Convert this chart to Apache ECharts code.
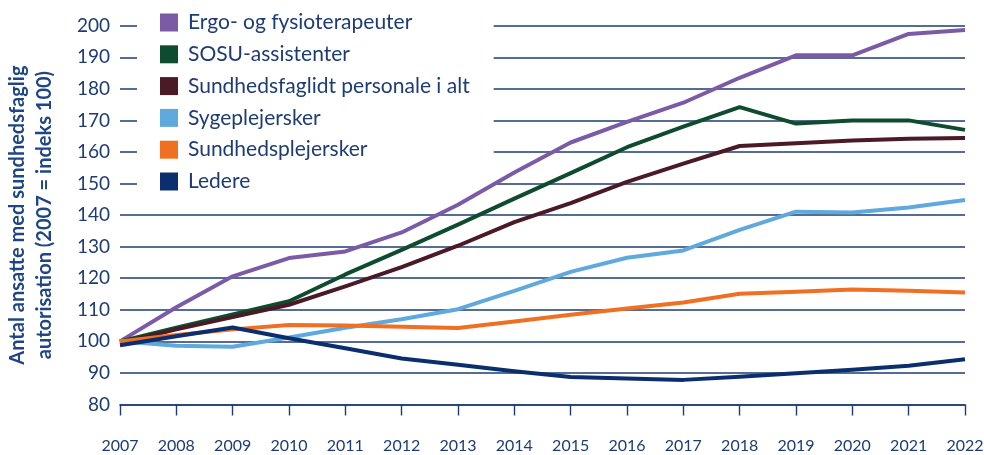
<!DOCTYPE html>
<html>
<head>
<meta charset="utf-8">
<script src="https://cdn.jsdelivr.net/npm/echarts@6/dist/echarts.min.js"></script>
<style>
  html, body { margin: 0; padding: 0; background: #ffffff; }
  #chart { width: 984px; height: 455px; }
</style>
</head>
<body>
<div id="chart"></div>
<script>
// Index of employees with health authorisation, 2007 = 100
var years = ['2007', '2008', '2009', '2010', '2011', '2012', '2013', '2014',
             '2015', '2016', '2017', '2018', '2019', '2020', '2021', '2022'];

var ergoFysio = [100, 110.8, 120.6, 126.4, 128.5, 134.5, 143.3, 153.5,
                 163.0, 169.5, 175.6, 183.5, 190.6, 190.6, 197.4, 198.6];
var sosu = [100, 104.3, 108.5, 112.7, 121.2, 129.0, 137.0, 145.2,
            153.3, 161.5, 168.0, 174.2, 169.0, 170.0, 170.0, 167.0];
var iAlt = [99.5, 103.8, 107.7, 111.6, 117.4, 123.5, 130.3, 137.8,
            143.8, 150.5, 156.3, 161.9, 162.8, 163.6, 164.2, 164.4];
var sygeplejersker = [100, 98.6, 98.3, 101.2, 104.3, 107.0, 110.2, 116.0,
                      122.0, 126.5, 128.8, 135.3, 141.1, 140.8, 142.4, 144.8];
var sundhedsplejersker = [100, 102.0, 103.8, 105.2, 105.0, 104.6, 104.2, 106.3,
                          108.4, 110.4, 112.3, 115.1, 115.7, 116.4, 116.0, 115.5];
var ledere = [98.8, 101.6, 104.4, 101.0, 97.8, 94.6, 92.6, 90.5,
              88.7, 88.2, 87.8, 88.8, 89.9, 91.0, 92.3, 94.3];

var seriesNames = ['Ergo- og fysioterapeuter', 'SOSU-assistenter',
                   'Sundhedsfaglidt personale i alt', 'Sygeplejersker',
                   'Sundhedsplejersker', 'Ledere'];
var seriesData = [ergoFysio, sosu, iAlt, sygeplejersker, sundhedsplejersker, ledere];
var colors = ['#7b5ba6', '#0f4c2f', '#4a1a26', '#5fa9dd', '#f07023', '#0b2f6e'];

var navy = '#1d3c73';
var fontFamily = 'Lato, "Noto Sans", sans-serif';

var chart = echarts.init(document.getElementById('chart'), null, { renderer: 'canvas' });

chart.setOption({
  animation: false,
  backgroundColor: '#ffffff',
  color: colors,
  textStyle: { fontFamily: fontFamily },
  grid: {
    left: 120, right: 19, top: 25.7, bottom: 50.5,
    containLabel: false,
    outerBoundsMode: 'none'
  },
  legend: {
    orient: 'vertical',
    left: 137,
    top: 2,
    z: 1,
    padding: [10, 24, 8, 23],
    backgroundColor: '#ffffff',
    icon: 'rect',
    itemWidth: 18,
    itemHeight: 18,
    itemGap: 10.8,
    selectedMode: false,
    textStyle: {
      color: navy,
      fontSize: 21,
      fontFamily: fontFamily,
      padding: [0, 0, 0, 5]
    },
    data: seriesNames
  },
  xAxis: {
    type: 'category',
    data: years,
    boundaryGap: false,
    axisLine: { show: true, lineStyle: { color: navy, width: 1.6 } },
    axisTick: { show: true, length: 11, alignWithLabel: true, lineStyle: { color: navy, width: 1.4 } },
    axisLabel: { color: navy, fontSize: 16, margin: 33, fontFamily: fontFamily },
    splitLine: { show: false }
  },
  yAxis: {
    type: 'value',
    min: 80,
    max: 200,
    interval: 10,
    axisLine: { show: false },
    axisTick: { show: false },
    axisLabel: { color: navy, fontSize: 19, margin: 10, fontFamily: fontFamily },
    splitLine: { show: true, lineStyle: { color: navy, width: 1.6 } },
    name: 'Antal ansatte med sundhedsfaglig\nautorisation (2007 = indeks 100)',
    nameLocation: 'middle',
    nameRotate: 90,
    nameGap: 62,
    nameMoveOverlap: false,
    nameTextStyle: {
      color: '#1f4684',
      fontSize: 20,
      fontWeight: 'bold',
      lineHeight: 27,
      fontFamily: fontFamily
    }
  },
  series: seriesNames.map(function (name, i) {
    return {
      name: name,
      type: 'line',
      data: seriesData[i],
      symbol: 'none',
      smooth: false,
      z: 2,
      lineStyle: { width: 4, color: colors[i], join: 'round' },
      itemStyle: { color: colors[i] }
    };
  })
});
</script>
</body>
</html>
